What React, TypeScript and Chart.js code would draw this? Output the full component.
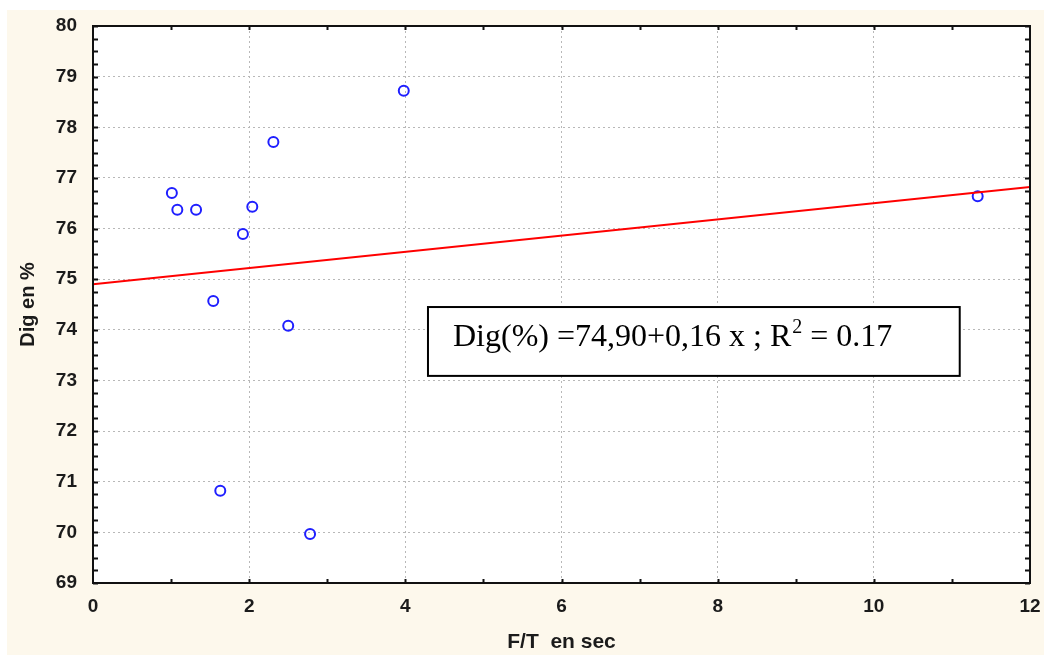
import { useEffect, useRef } from "react";
import { Chart, registerables } from "chart.js";
Chart.register(...registerables);

const pointsX = [1.01, 1.08, 1.32, 1.92, 2.04, 2.31, 3.98, 1.54, 2.5, 1.63, 2.78, 11.33];
const pointsY = [76.7, 76.37, 76.37, 75.89, 76.43, 77.71, 78.72, 74.57, 74.08, 70.82, 69.97, 76.64];
const fitX = [0, 12];
const fitY = [74.9, 76.82];
const xRange = [0, 12];
const yRange = [69, 80];
const xTitle = "F/T  en sec";
const yTitle = "Dig en %";
const noteMain = "Dig(%) =74,90+0,16 x ; R";
const noteSup = "2";
const noteEnd = " = 0.17";
// note box in data units: [x0, x1], [yTop, yBottom]
const noteX = [4.29, 11.1];
const noteY = [74.45, 73.09];

const tickFont = { family: "'Liberation Sans', Arial, sans-serif", size: 19, weight: "bold" as const };

export default function App() {
  const ref = useRef<HTMLCanvasElement | null>(null);
  useEffect(() => {
    document.body.style.margin = "0";
    const canvas = ref.current!;
    const framePlugin = {
      id: "frame",
      beforeDraw(chart: any) {
        const { ctx, chartArea: a, width, height } = chart;
        ctx.save();
        ctx.fillStyle = "#ffffff";
        ctx.fillRect(0, 0, width, height);
        ctx.fillStyle = "#fdf8ec";
        ctx.fillRect(7, 10, width - 7, height - 10);
        ctx.fillStyle = "#ffffff";
        ctx.fillRect(a.left, a.top, a.right - a.left, a.bottom - a.top);
        ctx.restore();
      },
      afterDraw(chart: any) {
        const { ctx, chartArea: a } = chart;
        const xs = chart.scales.x;
        const ys = chart.scales.y;
        ctx.save();
        ctx.strokeStyle = "#111";
        ctx.lineWidth = 2;
        ctx.strokeRect(a.left, a.top, a.right - a.left, a.bottom - a.top);
        ctx.lineWidth = 2;
        ctx.beginPath();
        for (let v = yRange[0]; v <= yRange[1]; v += 0.25) {
          const y = Math.round(ys.getPixelForValue(v)) + 0.5;
          ctx.moveTo(a.left, y);
          ctx.lineTo(a.left + 5, y);
          ctx.moveTo(a.right, y);
          ctx.lineTo(a.right - 5, y);
        }
        for (let v = xRange[0] + 1; v < xRange[1]; v += 1) {
          const x = Math.round(xs.getPixelForValue(v)) + 0.5;
          ctx.moveTo(x, a.top);
          ctx.lineTo(x, a.top + 4);
          ctx.moveTo(x, a.bottom);
          ctx.lineTo(x, a.bottom - 4);
        }
        ctx.stroke();
        // note box
        const bx0 = xs.getPixelForValue(noteX[0]);
        const bx1 = xs.getPixelForValue(noteX[1]);
        const by0 = ys.getPixelForValue(noteY[0]);
        const by1 = ys.getPixelForValue(noteY[1]);
        ctx.fillStyle = "#ffffff";
        ctx.fillRect(bx0, by0, bx1 - bx0, by1 - by0);
        ctx.strokeStyle = "#000";
        ctx.lineWidth = 2;
        ctx.strokeRect(bx0, by0, bx1 - bx0, by1 - by0);
        ctx.fillStyle = "#000";
        ctx.textBaseline = "alphabetic";
        ctx.textAlign = "left";
        const base = by0 + 39;
        let tx = bx0 + 25;
        ctx.font = "32px 'Liberation Serif', 'Times New Roman', serif";
        ctx.fillText(noteMain, tx, base);
        tx += ctx.measureText(noteMain).width;
        ctx.font = "20px 'Liberation Serif', 'Times New Roman', serif";
        ctx.fillText(noteSup, tx + 1, base - 13);
        tx += ctx.measureText(noteSup).width + 1;
        ctx.font = "32px 'Liberation Serif', 'Times New Roman', serif";
        ctx.fillText(noteEnd, tx, base);
        ctx.restore();
      },
    };
    const chart = new Chart(canvas, {
      type: "scatter",
      data: {
        datasets: [
          {
            type: "line",
            data: fitX.map((x, i) => ({ x, y: fitY[i] })),
            borderColor: "#ff0000",
            borderWidth: 2,
            pointRadius: 0,
            fill: false,
          },
          {
            data: pointsX.map((x, i) => ({ x, y: pointsY[i] })),
            borderColor: "#1f1fff",
            backgroundColor: "rgba(0,0,0,0)",
            borderWidth: 2,
            pointRadius: 5,
          },
        ],
      },
      options: {
        animation: false,
        responsive: false,
        layout: { padding: { top: 26, right: 14, left: 0, bottom: 0 } },
        plugins: { legend: { display: false }, tooltip: { enabled: false } },
        scales: {
          x: {
            type: "linear",
            min: xRange[0],
            max: xRange[1],
            afterFit: (s: any) => {
              s.height = 72;
              s.paddingLeft = 0;
              s.paddingRight = 0;
            },
            ticks: {
              stepSize: 1,
              autoSkip: false,
              maxRotation: 0,
              padding: 12,
              font: tickFont,
              color: "#1b1b1b",
              callback: (v: any) => (Number(v) % 2 === 0 ? String(v) : ""),
            },
            grid: {
              drawTicks: false,
              lineWidth: 1,
              color: (c: any) => (c.tick && Number(c.tick.value) % 2 === 0 ? "#b8b8b8" : "rgba(0,0,0,0)"),
            },
            border: { display: false, dash: [2, 3] },
            title: {
              display: true,
              text: xTitle,
              color: "#1b1b1b",
              font: { family: "'Liberation Sans', Arial, sans-serif", size: 21, weight: "bold", lineHeight: 1 },
              padding: { top: 0, bottom: 2 },
            },
          },
          y: {
            type: "linear",
            min: yRange[0],
            max: yRange[1],
            afterFit: (s: any) => {
              s.width = 93;
              s.paddingTop = 0;
              s.paddingBottom = 0;
            },
            ticks: {
              stepSize: 1,
              padding: 16,
              font: tickFont,
              color: "#1b1b1b",
            },
            grid: { drawTicks: false, lineWidth: 1, color: "#b8b8b8" },
            border: { display: false, dash: [2, 3] },
            title: {
              display: true,
              text: yTitle,
              color: "#1b1b1b",
              font: { family: "'Liberation Sans', Arial, sans-serif", size: 20, weight: "bold", lineHeight: 1 },
              padding: { top: 18, bottom: 0 },
            },
          },
        },
      },
      plugins: [framePlugin],
    });
    return () => chart.destroy();
  }, []);
  return (
    <div style={{ width: 1044, height: 655 }}>
      <canvas ref={ref} width={1044} height={655} style={{ display: "block" }} />
    </div>
  );
}
